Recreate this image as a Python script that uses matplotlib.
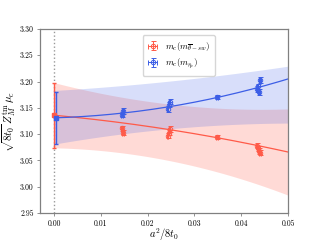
import numpy as np
import matplotlib
matplotlib.use("Agg")
import matplotlib.pyplot as plt

plt.rcParams["font.family"] = "serif"
plt.rcParams["font.serif"] = ["cmr10"]
plt.rcParams["mathtext.fontset"] = "cm"
plt.rcParams["axes.formatter.use_mathtext"] = True

# ------------------------------------------------------------
# data
# ------------------------------------------------------------
red_x = [0.0145, 0.0147, 0.0243, 0.0245, 0.0247, 0.0348, 0.0433, 0.0435, 0.0438, 0.0440]
red_y = [3.111, 3.103, 3.097, 3.103, 3.110, 3.094, 3.078, 3.073, 3.068, 3.065]
red_err = [0.005, 0.005, 0.005, 0.005, 0.005, 0.004, 0.005, 0.005, 0.005, 0.005]

blue_x = [0.0145, 0.0147, 0.0243, 0.0245, 0.0247, 0.0348, 0.0433, 0.0435, 0.0438, 0.0440]
blue_y = [3.137, 3.144, 3.148, 3.156, 3.162, 3.170, 3.186, 3.191, 3.180, 3.203]
blue_err = [0.005, 0.005, 0.005, 0.005, 0.005, 0.004, 0.005, 0.005, 0.005, 0.005]

# continuum values
red_cont, red_cont_err = 3.136, 0.062
blue_cont, blue_cont_err = 3.131, 0.050

# fit curves: c0 + c1*x + c2*x^2
red_fit = [3.136, -0.83, -11.4]
red_up = [3.198, -2.29, 25.8]
red_lo = [3.074, -0.195, -32.1]
blue_fit = [3.131, 0.26, 24.4]
blue_up = [3.183, 0.53, 7.9]
blue_lo = [3.081, 1.556, -15.1]

labels = [r"$m_c(m_{\overline{\theta}-sw})$", r"$m_c(m_{\eta_c})$"]

RED = "#ff5a48"
BLUE = "#3c5ee6"


def poly(c, x):
    return c[0] + c[1] * x + c[2] * x ** 2


fig = plt.figure(figsize=(3.2, 2.4), dpi=100)
ax = fig.add_axes([0.125, 0.1125, 0.775, 0.7667])

xs = np.linspace(0.0, 0.05, 200)
ax.fill_between(xs, poly(red_lo, xs), poly(red_up, xs), color=RED, alpha=0.22, lw=0)
ax.fill_between(xs, poly(blue_lo, xs), poly(blue_up, xs), color=BLUE, alpha=0.2, lw=0)
ax.plot(xs, poly(red_fit, xs), color=RED, lw=0.9)
ax.plot(xs, poly(blue_fit, xs), color=BLUE, lw=0.9)

ax.axvline(0.0, color="0.6", ls=":", lw=1.0, zorder=1)

ax.errorbar(red_x, red_y, yerr=red_err, xerr=0.00015, fmt="o", ms=3.2, mfc="none",
            mec=RED, color=RED, elinewidth=0.7, capsize=1.8, mew=0.7, label=labels[0])
ax.errorbar(blue_x, blue_y, yerr=blue_err, xerr=0.00015, fmt="o", ms=3.2, mfc="none",
            mec=BLUE, color=BLUE, elinewidth=0.7, capsize=1.8, mew=0.7, label=labels[1])

ax.errorbar([-0.0001], [red_cont], yerr=[red_cont_err], fmt="s", ms=3.5, color=RED,
            elinewidth=1.0, capsize=1.5)
ax.errorbar([0.0005], [blue_cont], yerr=[blue_cont_err], fmt="s", ms=3.5, color=BLUE,
            elinewidth=1.0, capsize=1.5)

ax.set_xlim(-0.003, 0.05)
ax.set_ylim(2.95, 3.30)
ax.set_xticks([0.0, 0.01, 0.02, 0.03, 0.04, 0.05])
ax.set_yticks([2.95, 3.00, 3.05, 3.10, 3.15, 3.20, 3.25, 3.30])
ax.set_xticklabels(["0.00", "0.01", "0.02", "0.03", "0.04", "0.05"])
ax.set_yticklabels(["2.95", "3.00", "3.05", "3.10", "3.15", "3.20", "3.25", "3.30"])
ax.tick_params(labelsize=5.5, color="0.5", length=2.5, width=0.6, pad=2)
for s in ax.spines.values():
    s.set_color("0.5")
    s.set_linewidth(0.9)

ax.set_xlabel(r"$a^2/8t_0$", fontsize=7.5, labelpad=-1)
ax.set_ylabel(r"$\sqrt{8t_0}\,Z_M^{\rm tm}\,\mu_c$", fontsize=8, labelpad=1)

ax.legend(loc="upper center", bbox_to_anchor=(0.56, 0.99), fontsize=6.5,
          handlelength=1.2, borderpad=0.5, labelspacing=0.4, framealpha=0.8)

fig.savefig("out.png", dpi=100)
